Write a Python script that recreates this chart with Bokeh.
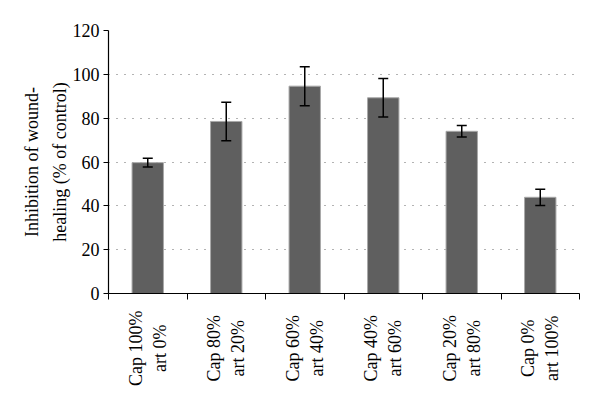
import math
from bokeh.plotting import figure
from bokeh.layouts import column
from bokeh.models import ColumnDataSource, Whisker, FixedTicker, Range1d
from bokeh.core.properties import value
from bokeh.embed import file_html
from bokeh.resources import INLINE

categories = ["Cap 100%\nart 0%", "Cap 80%\nart 20%", "Cap 60%\nart 40%",
              "Cap 40%\nart 60%", "Cap 20%\nart 80%", "Cap 0%\nart 100%"]
values = [59.7, 78.5, 94.6, 89.3, 74.0, 43.9]
errors = [2.0, 8.8, 8.9, 8.8, 2.6, 3.7]
y_ticks = [0, 20, 40, 60, 80, 100, 120]

xs = [i + 0.5 for i in range(len(categories))]
src = ColumnDataSource(dict(
    x=xs, top=values,
    upper=[v + e for v, e in zip(values, errors)],
    lower=[v - e for v, e in zip(values, errors)],
))
lab_src = ColumnDataSource(dict(
    x=xs,
    line1=[c.split("\n")[0] for c in categories],
    line2=[c.split("\n")[1] for c in categories],
))

FONT = "Liberation Serif"
FS = "18px"

x_range = Range1d(0, len(categories))
p = figure(width=584, height=305, output_backend="svg", toolbar_location=None,
           x_range=x_range, y_range=Range1d(0, 120),
           min_border_left=108, min_border_right=5, min_border_top=30, min_border_bottom=12)
p.outline_line_color = None
p.background_fill_color = "white"

p.vbar(x="x", top="top", width=0.4, source=src, fill_color="#5f5f5f",
       line_color="#a8a8a8", line_width=1)

w = Whisker(base="x", upper="upper", lower="lower", source=src,
            line_color="black", line_width=1.5, level="overlay")
w.upper_head.size = 10
w.lower_head.size = 10
w.upper_head.line_width = 1.5
w.lower_head.line_width = 1.5
p.add_layout(w)

# x axis: ticks between categories only
p.xaxis.ticker = FixedTicker(ticks=[], minor_ticks=list(range(len(categories) + 1)))
p.xaxis.major_tick_line_color = None
p.xaxis.minor_tick_in = 0
p.xaxis.minor_tick_out = 6
p.xaxis.minor_tick_line_color = "black"
p.xaxis.axis_line_color = "black"
p.xaxis.axis_line_width = 1.2
p.xaxis.major_label_standoff = 0
p.xgrid.grid_line_color = None

p.yaxis.ticker = FixedTicker(ticks=y_ticks, minor_ticks=[])
p.yaxis.major_tick_in = 0
p.yaxis.major_tick_out = 5
p.yaxis.major_tick_line_color = "black"
p.yaxis.axis_line_color = "black"
p.yaxis.axis_line_width = 1.2
p.yaxis.major_label_text_font = FONT
p.yaxis.major_label_text_font_size = FS
p.yaxis.major_label_text_color = "black"
p.yaxis.major_label_standoff = 4
p.yaxis.axis_label = "Inhibition of wound-\nhealing (% of control)"
p.yaxis.axis_label_text_font = FONT
p.yaxis.axis_label_text_font_size = FS
p.yaxis.axis_label_text_font_style = "normal"
p.yaxis.axis_label_text_color = "black"
p.yaxis.axis_label_text_line_height = 1.4
p.yaxis.axis_label_standoff = 0

p.ygrid.ticker = FixedTicker(ticks=y_ticks[1:])
p.ygrid.grid_line_color = "#666666"
p.ygrid.grid_line_dash = "1 7"
p.ygrid.grid_line_width = 1

# category labels: rotated, two centred lines each
p2 = figure(width=584, height=89, output_backend="svg", toolbar_location=None,
            x_range=x_range, y_range=Range1d(0, 1),
            min_border_left=108, min_border_right=5, min_border_top=0, min_border_bottom=0)
p2.axis.visible = False
p2.grid.grid_line_color = None
p2.outline_line_color = None
for col, off in (("line1", -12), ("line2", 12)):
    p2.text(x="x", y=0.52, text=col, source=lab_src, angle=math.pi / 2,
            text_align="center", text_baseline="middle", x_offset=off,
            text_font=value(FONT), text_font_size=FS, text_color="black")

open("out.html", "w").write(file_html(column(p, p2, spacing=0), INLINE))
